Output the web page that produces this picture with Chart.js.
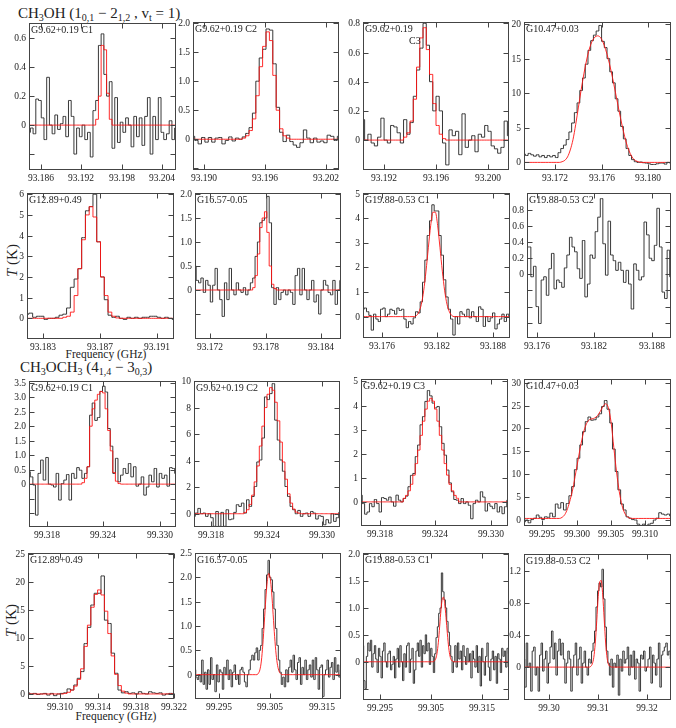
<!DOCTYPE html>
<html lang="en">
<head>
<meta charset="UTF-8">
<title>CH3OH and CH3OCH3 spectra</title>
<style>
body { margin:0; background:#fff; width:676px; height:728px; position:relative; overflow:hidden;
       font-family:'Liberation Serif', serif; color:#222; }
canvas { position:absolute; }
.txt { position:absolute; white-space:nowrap; line-height:1; }
.ttl { font-size:15px; }
.ttl sub { font-size:10px; vertical-align:-3px; line-height:0; }
.ylab { font-size:15px; width:60px; text-align:center; transform:rotate(-90deg); }
.xlab { font-size:11.5px; width:100px; text-align:center; }
.tk { position:absolute; font-size:9.5px; line-height:10px; white-space:nowrap; color:#222; }
</style>
</head>
<body>
<div class="txt ttl" style="left:18px;top:6px">CH<sub>3</sub>OH (1<sub>0,1</sub> − 2<sub>1,2</sub> , v<sub>t</sub> = 1)</div>
<div class="txt ttl" style="left:20px;top:360px">CH<sub>3</sub>OCH<sub>3</sub> (4<sub>1,4</sub> − 3<sub>0,3</sub>)</div>
<div class="txt ylab" style="left:-18px;top:253px"><i>T</i> (K)</div>
<div class="txt ylab" style="left:-19px;top:613px"><i>T</i> (K)</div>
<div class="txt xlab" style="left:56px;top:349px">Frequency (GHz)</div>
<div class="txt xlab" style="left:66px;top:711px">Frequency (GHz)</div>

<script src="https://cdn.jsdelivr.net/npm/chart.js@4.4.1/dist/chart.umd.min.js"></script>
<script>
// ---- spectra (K), one value per channel, left to right ----
// CH3OH 1(0,1)-2(1,2) vt=1
const ohG962C1 = [-0.05,-0.02,-0.06,0.18,0.17,0.05,-0.1,0.33,0.0,-0.06,0.07,-0.03,0.01,0.06,-0.08,0.17,0.06,-0.2,-0.02,-0.08,0.0,-0.1,-0.05,-0.22,0.1,0.17,0.55,0.63,0.35,0.2,0.3,-0.16,0.19,-0.12,0.02,-0.05,0.05,0.0,-0.15,0.06,-0.08,0.05,-0.14,0.06,0.19,-0.2,0.06,-0.1,0.19,-0.05,-0.1,-0.06,0.03,-0.1,-0.02];
const ohG962C1Fit = [0.04,0.2,0.55,0.52,0.22,0.04];
const ohG962C2 = [0.05,-0.02,-0.08,0.03,-0.05,0.03,-0.05,0.02,0.03,-0.08,-0.02,0.04,-0.03,0.02,0.0,0.04,0.1,0.2,0.45,1.0,1.4,1.55,1.9,1.88,1.3,0.55,0.12,-0.04,0.07,-0.04,-0.1,-0.14,-0.06,0.16,0.02,-0.06,0.02,-0.05,-0.03,-0.06,0.07,0.05,-0.02,0.05];
const ohG962C2Fit = [0.02,0.06,0.15,0.35,0.75,1.25,1.6,1.85,1.7,1.1,0.5,0.18,0.06,0.02];
const ohG962C3 = [0.14,0.0,0.04,-0.02,-0.04,0.02,0.15,0.0,-0.02,0.1,0.09,0.05,-0.02,0.14,0.04,0.12,0.3,0.48,0.63,0.8,0.65,0.4,0.2,0.3,0.2,-0.02,-0.17,0.07,0.03,0.06,-0.1,0.18,-0.05,0.0,0.03,-0.08,0.04,0.02,0.1,0.06,-0.04,-0.06,-0.09,-0.05,0.13,0.03];
const ohG962C3Fit = [0.02,0.05,0.13,0.28,0.5,0.7,0.77,0.62,0.45,0.25,0.1,0.04,0.01];
const ohG1047 = [1.2,1.0,1.3,1.1,0.9,1.1,0.8,1.0,0.7,1.0,0.8,1.0,0.7,1.4,2.0,2.5,3.3,4.4,5.7,7.2,8.6,10.4,12.2,14.2,16.2,17.6,18.4,19.0,19.8,17.5,16.6,15.0,13.1,11.5,9.2,7.4,5.2,3.4,2.0,1.0,0.4,0.1,0.0,0.05,-0.05,-0.1,-0.2,-0.3,-0.3,-0.2,-0.1,-0.1,-0.25,0.0,-0.1];
const ohG1047Fit = [0.1,0.3,0.8,1.8,3.3,5.5,8.0,10.5,12.8,14.8,16.4,17.5,18.1,18.3,18.1,17.4,16.3,14.9,13.2,11.3,9.3,7.3,5.4,3.7,2.3,1.3,0.6,0.25,0.1];
const ohG1289 = [0.2,0.25,0.05,0.1,0.1,-0.05,0.0,0.0,0.05,0.15,0.2,0.5,1.5,1.9,2.4,3.9,5.2,5.4,6.0,3.7,2.0,0.9,0.15,0.05,0.1,0.0,-0.05,0.05,0.0,0.05,0.0,0.05,0.05,0.1,0.1,0.05,0.0,0.05,0.0,-0.05];
const ohG1289Fit = [0.05,0.1,0.3,1.1,2.4,3.8,5.0,5.4,4.9,3.7,2.0,1.1,0.3,0.1,0.02];
const ohG1657 = [0.5,0.2,0.15,0.25,-0.05,0.2,0.1,-0.25,0.1,0.45,0.0,-0.2,-0.55,0.15,-0.2,0.45,0.0,-0.1,0.15,0.0,-0.05,0.05,-0.1,0.0,0.15,0.25,0.7,1.0,1.4,1.45,1.5,1.95,1.4,0.05,-0.3,0.05,-0.2,-0.05,0.0,-0.1,0.0,-0.05,-0.3,0.3,0.45,-0.1,0.45,0.0,-0.2,0.0,0.2,-0.25,-0.1,-0.5,0.0,0.2,0.1,-0.05,-0.1,0.2,-0.3,0.0,0.2];
const ohG1657Fit = [0.05,0.3,0.75,1.3,1.5,1.63,1.2,0.5,0.12,0.03];
const ohG1988C1 = [0.3,0.35,0.2,0.05,-0.55,0.1,-0.1,-0.2,0.3,0.35,0.0,0.1,0.3,0.25,0.1,0.35,0.25,0.3,-0.1,-0.45,-0.2,-0.3,-0.05,0.2,0.15,0.6,1.4,2.3,3.3,3.9,4.55,4.3,4.3,3.3,2.5,1.5,0.8,0.3,-0.1,-0.75,0.0,-0.3,0.2,0.1,0.0,0.3,-0.05,0.2,0.0,-0.2,0.4,0.3,-0.4,0.0,-0.2,-0.05,0.15,-0.5,-0.3,-0.1,0.1,-0.2,0.1,0.0];
const ohG1988C1Fit = [0.05,0.2,0.5,1.05,1.85,2.8,3.7,4.25,4.25,3.7,2.8,1.85,1.05,0.5,0.2,0.05];
const ohG1988C2 = [0.34,0.34,-0.03,0.1,-0.4,-0.61,-0.07,-0.03,-0.26,0.07,0.26,-0.18,-0.07,-0.1,-0.16,0.08,0.24,0.46,0.34,0.28,0.07,-0.05,0.42,-0.28,-0.12,0.24,0.2,0.53,0.71,0.94,0.38,-0.01,0.66,0.24,0.17,0.05,0.15,0.05,-0.1,0.05,-0.12,-0.43,0.13,0.05,-0.07,-0.03,0.65,0.49,0.2,0.17,0.36,0.82,0.34,-0.22,-0.3,0.3,-0.03];

// CH3OCH3 4(1,4)-3(0,3)
const dmeG962C1 = [0.43,0.25,-0.03,-1.07,0.37,0.83,0.14,0.92,0.0,-0.03,-0.1,0.37,-0.55,0.02,0.14,0.33,-0.55,0.37,0.2,0.57,0.48,0.2,0.37,0.6,2.38,2.8,2.2,2.3,3.2,3.38,3.18,1.92,1.31,0.37,0.89,0.08,0.31,0.54,0.37,0.71,0.25,0.6,-0.07,0.0,0.25,-0.38,-0.1,0.31,0.08,0.54,-0.1,0.37,0.2,0.31,-0.07,0.57,0.54,0.37];
const dmeG962C1Fit = [0.05,0.2,0.6,2.0,2.6,2.9,3.1,3.2,3.15,2.6,1.85,1.15,0.4,0.1,0.02];
const dmeG962C2 = [-0.2,0.05,0.4,0.0,0.05,-0.2,0.0,-0.3,-0.95,0.17,-0.95,0.1,-0.95,0.3,-0.45,-0.4,0.1,0.68,0.55,0.8,0.05,1.05,0.55,1.3,2.05,3.9,4.05,5.7,8.8,8.6,9.05,9.8,7.05,5.55,4.05,3.2,2.05,1.3,0.55,0.3,0.0,0.25,-0.2,0.0,0.05,-0.2,0.17,0.05,-0.4,-0.15,-0.2,-0.83,-0.45,-0.7,0.0,-0.58,-0.3,0.1];
const dmeG962C2Fit = [0.1,0.3,0.7,1.4,2.4,3.6,5.1,6.6,8.0,9.0,9.5,9.3,8.4,7.0,5.4,3.9,2.6,1.5,0.8,0.35,0.12,0.04];
const dmeG962C3 = [0.28,-0.07,-0.51,-0.42,-0.07,-0.2,0.1,-0.07,-0.42,0.18,0.14,0.07,0.2,0.0,-0.18,0.28,0.07,0.0,0.14,0.24,0.63,1.1,1.18,1.88,2.36,3.2,3.54,4.17,4.62,4.4,4.1,3.9,3.96,3.12,2.43,1.94,1.32,0.79,0.42,0.1,0.07,-0.07,0.14,-0.07,0.0,-0.14,-0.7,-0.07,0.07,0.0,0.42,0.2,-0.38,-0.07,-0.18,-0.28,-0.07,-0.42,-0.2,-0.49,-0.2,0.07];
const dmeG962C3Fit = [0.15,0.27,0.46,0.73,1.11,1.59,2.15,2.76,3.35,3.85,4.18,4.3,4.18,3.85,3.35,2.76,2.15,1.59,1.11,0.73,0.46,0.27,0.15];
const dmeG1047 = [-0.4,0.0,-0.6,0.1,0.4,1.1,0.6,0.1,0.7,0.6,1.5,0.7,3.5,2.6,3.8,2.2,3.6,5.3,7.3,11.0,13.5,16.4,19.3,21.5,22.5,21.8,21.9,22.5,23.2,24.8,26.1,24.2,21.2,15.5,10.6,6.6,3.5,2.2,0.7,0.4,0.1,0.0,-0.9,-1.3,-0.9,-1.3,-0.9,-0.7,0.0,0.4,1.6,1.3,1.1,1.3,0.9];
const dmeG1047Fit = [0.6,1.2,2.5,4.5,7.0,10.3,13.6,16.8,19.4,21.1,21.9,22.1,22.3,22.8,23.7,24.8,25.4,24.5,21.3,15.8,10.5,6.2,3.2,1.5,0.7,0.4];
const dmeG1289 = [0.2,0.0,0.1,-0.1,0.0,0.1,-0.2,0.1,-0.3,0.0,0.1,0.2,0.9,0.7,1.6,2.8,4.0,9.0,11.9,15.9,18.0,18.0,21.1,13.2,12.6,7.3,3.7,0.7,0.2,0.4,0.1,0.2,0.0,0.4,0.1,0.0,0.4,0.2,0.1,0.2,-0.2,0.0,0.1,0.0];
const dmeG1289Fit = [0.1,0.3,0.7,1.4,2.6,4.5,8.5,12.3,15.5,17.8,18.6,17.7,14.8,10.8,6.8,3.5,1.5,0.5,0.15];
const dmeG1657 = [0.1,-0.05,-0.1,0.0,-0.15,0.3,-0.2,0.05,-0.3,0.1,
  -0.2,0.35,-0.1,0.0,-0.35,0.2,-0.15,0.1,0.05,-0.3,
  0.15,0.0,0.3,-0.1,0.1,-0.25,0.05,0.2,-0.1,0.0,
  -0.2,0.1,0.15,0.05,-0.15,-0.25,0.0,0.1,0.3,0.4,
  0.3,0.45,0.55,0.3,0.5,0.6,0.95,1.35,1.75,2.05,
  2.35,2.0,1.95,1.7,1.35,0.95,0.6,0.3,0.05,-0.2,
  -0.05,-0.25,0.1,-0.15,0.15,0.3,0.05,0.4,0.1,-0.1,
  0.25,0.35,-0.2,0.15,0.0,0.3,-0.1,0.1,0.2,-0.05,
  0.3,-0.1,0.35,0.1,-0.3,0.15,0.2,-0.45,0.0,0.1,
  0.3,-0.05,0.15,0.25,-0.1,0.35,0.05,0.2,-0.05,0.1];
const dmeG1657Fit = [0.03,0.1,0.28,0.62,1.08,1.55,1.92,2.08,1.98,1.68,1.23,0.78,0.42,0.19,0.07,0.02];
const dmeG1988C1 = [0.3,-0.35,-0.5,0.1,0.35,0.2,0.4,-0.1,0.15,0.3,
  0.05,-0.2,0.25,0.1,-0.3,0.2,0.35,0.0,-0.1,0.15,
  0.2,-0.15,-0.05,0.1,-0.3,0.05,0.25,-0.1,0.3,0.0,
  -0.35,0.15,-0.1,0.3,0.35,-0.2,0.05,0.25,-0.4,-0.15,
  0.2,0.35,0.1,0.4,-0.1,0.3,0.15,0.5,0.2,0.35,
  -0.05,0.25,0.1,-0.2,0.15,0.45,0.65,0.9,1.0,1.65,
  1.3,1.15,1.0,0.75,0.55,0.3,0.1,-0.2,0.0,0.3,
  -0.1,0.35,0.05,0.2,-0.15,0.3,0.1,-0.05,0.25,0.0,
  0.15,-0.3,0.2,0.05,-0.1,0.3,-0.2,0.1,-0.45,0.25,
  0.0,-0.25,0.1,0.35,-0.1,-0.35,0.05,0.2,-0.15,0.1,
  -0.4,0.15,0.05,-0.2,0.25,0.1,0.2,-0.1,0.25,0.15];
const dmeG1988C1Fit = [0.01,0.04,0.12,0.3,0.58,0.9,1.14,1.2,1.08,0.82,0.52,0.26,0.1,0.03,0.01];
const dmeG1988C2 = [0.1,-0.25,0.3,0.0,0.05,-0.3,0.2,0.25,-0.1,0.0,
  -0.3,0.15,0.3,-0.05,0.1,0.2,-0.2,0.05,0.25,0.45,
  0.1,0.3,-0.1,0.2,0.35,0.15,0.3,0.1,-0.2,0.05,
  0.2,0.1,-0.3,0.0,0.15,0.3,-0.1,0.1,0.25,-0.2,
  0.05,0.2,0.0,-0.1,0.1,0.05,0.2,0.3,0.45,0.75,
  0.95,1.05,1.0,1.22,0.85,0.5,0.2,0.05,-0.1,0.1,
  -0.25,0.05,0.0,0.15,-0.35,0.1,-0.05,0.2,0.05,0.1,
  0.25,-0.1,0.15,0.0,0.2,-0.15,0.1,0.05,-0.3,0.15,
  0.1,0.2,-0.05,0.0,0.1,0.25,-0.2,0.15,0.05,-0.1,
  0.1,0.3,-0.25,0.15,0.2,0.25,0.3,0.15,0.2,0.1];
const dmeG1988C2Fit = [0.01,0.04,0.12,0.3,0.58,0.88,1.06,1.08,0.9,0.6,0.3,0.11,0.03,0.01];

// ---- tick labels ----
const yT06 = ['0','0.2','0.4','0.6'];
const yT08 = ['0','0.2','0.4','0.6','0.8'];
const yT20 = ['0','0.5','1.0','1.5','2.0'];
const yT25 = ['0','0.5','1.0','1.5','2.0','2.5'];
const yT35 = ['0','0.5','1.0','1.5','2.0','2.5','3.0','3.5'];
const yT12 = ['0','0.4','0.8','1.2'];
const yT5 = ['0','1','2','3','4','5'];
const yT6 = ['0','1','2','3','4','5','6'];
const yT10 = ['0','2','4','6','8','10'];
const yT20K = ['0','5','10','15','20'];
const yT25K = ['0','5','10','15','20','25'];
const yT30K = ['0','5','10','15','20','25','30'];

// ---- panel table: spectrum, fit (start channel, baseline), axis windows (GHz, K) ----
const panels = [
  {name:['G9.62+0.19 C1'], spec:ohG962C1, fit:ohG962C1Fit, from:25, base:0, smooth:false, xr:[93.1842,93.2061], yr:[-0.31,0.705], xt:['93.186','93.192','93.198','93.204'], yt:yT06},
  {name:['G9.62+0.19 C2'], spec:ohG962C2, fit:ohG962C2Fit, from:15, base:0, smooth:false, xr:[93.1889,93.2033], yr:[-0.53,2.02], xt:['93.190','93.196','93.202'], yt:yT20},
  {name:['G9.62+0.19','C3'], spec:ohG962C3, fit:ohG962C3Fit, from:13, base:0, smooth:false, xr:[93.1904,93.2016], yr:[-0.205,0.809], xt:['93.192','93.196','93.200'], yt:yT08},
  {name:['G10.47+0.03'], spec:ohG1047, fit:ohG1047Fit, from:14, base:0, smooth:true, xr:[93.1693,93.182], yr:[-1.1,20.3], xt:['93.172','93.176','93.180'], yt:yT20K},
  {name:['G12.89+0.49'], spec:ohG1289, fit:ohG1289Fit, from:10, base:0, smooth:false, xr:[93.1819,93.1922], yr:[-1.0,6.06], xt:['93.183','93.187','93.191'], yt:yT6},
  {name:['G16.57-0.05'], spec:ohG1657, fit:ohG1657Fit, from:25, base:0, smooth:false, xr:[93.1704,93.1861], yr:[-1.02,2.02], xt:['93.172','93.178','93.184'], yt:yT20},
  {name:['G19.88-0.53 C1'], spec:ohG1988C1, fit:ohG1988C1Fit, from:23, base:0, smooth:true, xr:[93.1739,93.1899], yr:[-0.87,5.03], xt:['93.176','93.182','93.188'], yt:yT5},
  {name:['G19.88-0.53 C2'], spec:ohG1988C2, fit:null, from:0, base:0, smooth:false, xr:[93.175,93.19], yr:[-0.79,1.01], xt:['93.176','93.182','93.188'], yt:yT08},
  {name:['G9.62+0.19 C1'], spec:dmeG962C1, fit:dmeG962C1Fit, from:21, base:0, smooth:false, xr:[99.3161,99.3317], yr:[-1.48,3.56], xt:['99.318','99.324','99.330'], yt:yT35},
  {name:['G9.62+0.19 C2'], spec:dmeG962C2, fit:dmeG962C2Fit, from:20, base:0, smooth:false, xr:[99.3161,99.332], yr:[-1.0,10.0], xt:['99.318','99.324','99.330'], yt:yT10},
  {name:['G9.62+0.19 C3'], spec:dmeG962C3, fit:dmeG962C3Fit, from:18, base:0, smooth:false, xr:[99.316,99.3318], yr:[-1.0,5.1], xt:['99.318','99.324','99.330'], yt:yT5},
  {name:['G10.47+0.03'], spec:dmeG1047, fit:dmeG1047Fit, from:14, base:0.35, smooth:true, xr:[99.2923,99.3138], yr:[-1.3,30.8], xt:['99.295','99.300','99.305','99.310'], yt:yT30K},
  {name:['G12.89+0.49'], spec:dmeG1289, fit:dmeG1289Fit, from:11, base:0, smooth:false, xr:[99.30663,99.322], yr:[-0.9,25.2], xt:['99.310','99.314','99.318','99.322'], yt:yT25K},
  {name:['G16.57-0.05'], spec:dmeG1657, fit:dmeG1657Fit, from:43, base:0, smooth:true, xr:[99.2903,99.3188], yr:[-0.5,2.5], xt:['99.295','99.305','99.315'], yt:yT25},
  {name:['G19.88-0.53 C1'], spec:dmeG1988C1, fit:dmeG1988C1Fit, from:53, base:0, smooth:true, xr:[99.2917,99.3204], yr:[-0.71,2.02], xt:['99.295','99.305','99.315'], yt:yT20},
  {name:['G19.88-0.53 C2'], spec:dmeG1988C2, fit:dmeG1988C2Fit, from:45, base:0, smooth:true, xr:[99.295,99.3248], yr:[-0.41,1.41], xt:['99.30','99.31','99.32'], yt:yT12}
];

// plot boxes on the page: left, top, width, height
const boxes = [
  [29,23,147,147],[193,22,146,148],[363,22,146,148],[524,22,147,148],
  [27,193,147,146],[195,193,146,146],[363,193,147,145],[527,193,144,145],
  [29,381,147,146],[194,381,146,146],[361,379,147,147],[524,379,147,147],
  [28,553,146,146],[195,553,146,146],[363,553,146,147],[524,554,147,146]
];

const YW = 34, XH = 18, PT = 6, PR = 22;   // room around each box
const SERIF = "'Liberation Serif', 'Times New Roman', serif";
Chart.defaults.font.family = SERIF;

// frame with inward ticks on all four sides + source name
function framePlugin(p) {
  return {
    id: 'frame',
    afterDatasetsDraw(chart) {
      const {ctx, chartArea: a, scales} = chart;
      const x = scales.x, y = scales.y;
      const L = Math.round(a.left) + 0.5, R = Math.round(a.right) - 0.5;
      const T = Math.round(a.top) + 0.5, B = Math.round(a.bottom) - 0.5;
      ctx.save();
      ctx.strokeStyle = '#444';
      ctx.lineWidth = 1;
      ctx.strokeRect(L, T, R - L, B - T);
      ctx.beginPath();
      p.xt.forEach(s => {
        const px = Math.round(x.getPixelForValue(parseFloat(s))) + 0.5;
        ctx.moveTo(px, B); ctx.lineTo(px, B - 5);
        ctx.moveTo(px, T); ctx.lineTo(px, T + 5);
      });
      const yv = p.yt.map(Number);
      const step = yv[1] - yv[0];
      for (let v = -step; v > y.min + 1e-9; v -= step) yv.push(v);
      yv.forEach(v => {
        const py = Math.round(y.getPixelForValue(v)) + 0.5;
        ctx.moveTo(L, py); ctx.lineTo(L + 5, py);
        ctx.moveTo(R, py); ctx.lineTo(R - 5, py);
      });
      ctx.stroke();
      ctx.fillStyle = '#222';
      ctx.font = '10px ' + SERIF;
      ctx.textBaseline = 'alphabetic';
      ctx.fillText(p.name[0], a.left + 2, a.top + 10);
      if (p.name[1]) ctx.fillText(p.name[1], a.left + 46, a.top + 22);
      ctx.restore();
    }
  };
}

function addTick(text, left, top, width, align) {
  const d = document.createElement('div');
  d.className = 'tk';
  d.textContent = text;
  d.style.left = left + 'px';
  d.style.top = top + 'px';
  d.style.width = width + 'px';
  d.style.textAlign = align;
  document.body.appendChild(d);
}

panels.forEach((p, i) => {
  const b = boxes[i];
  const W = YW + b[2] + PR, H = PT + b[3] + XH;
  const cx = b[0] - YW, cy = b[1] - PT;
  const cv = document.createElement('canvas');
  cv.width = W; cv.height = H;
  cv.style.left = cx + 'px';
  cv.style.top = cy + 'px';
  cv.style.width = W + 'px';
  cv.style.height = H + 'px';
  document.body.appendChild(cv);

  const n = p.spec.length;
  const fx = k => p.xr[0] + k * (p.xr[1] - p.xr[0]) / (n - 1);
  const datasets = [];
  if (p.fit) {
    datasets.push({
      data: p.spec.map((_, k) => ({x: fx(k),
        y: (k >= p.from && k < p.from + p.fit.length) ? p.fit[k - p.from] : p.base})),
      borderColor: 'rgba(255,20,20,0.9)', borderWidth: 1, pointRadius: 0,
      stepped: p.smooth ? false : 'middle',
      tension: p.smooth ? 0.4 : 0, cubicInterpolationMode: p.smooth ? 'monotone' : 'default'
    });
  }
  datasets.push({
    data: p.spec.map((v, k) => ({x: fx(k), y: v})),
    borderColor: '#383838', borderWidth: 1, pointRadius: 0, stepped: 'middle'
  });

  const chart = new Chart(cv, {
    type: 'line',
    data: {datasets},
    options: {
      responsive: false,
      animation: false,
      events: [],
      layout: {autoPadding: false, padding: {left: 0, top: PT, right: PR, bottom: 0}},
      plugins: {legend: {display: false}, tooltip: {enabled: false}},
      scales: {
        x: {
          type: 'linear', min: p.xr[0], max: p.xr[1],
          afterFit: s => { s.height = XH; },
          grid: {display: false, drawTicks: false}, border: {display: false},
          ticks: {display: false}
        },
        y: {
          type: 'linear', min: p.yr[0], max: p.yr[1],
          afterFit: s => { s.width = YW; },
          grid: {display: false, drawTicks: false}, border: {display: false},
          ticks: {display: false}
        }
      }
    },
    plugins: [framePlugin(p)]
  });

  // tick labels as page text, placed through the chart's own scales
  const a = chart.chartArea;
  p.xt.forEach(s => {
    const px = cx + chart.scales.x.getPixelForValue(parseFloat(s));
    addTick(s, Math.round(px - 20), Math.round(cy + a.bottom + 3), 40, 'center');
  });
  p.yt.forEach(s => {
    const py = cy + chart.scales.y.getPixelForValue(Number(s));
    addTick(s, Math.round(cx + a.left - 3 - 30), Math.round(py - 5), 30, 'right');
  });
});
</script>
</body>
</html>
